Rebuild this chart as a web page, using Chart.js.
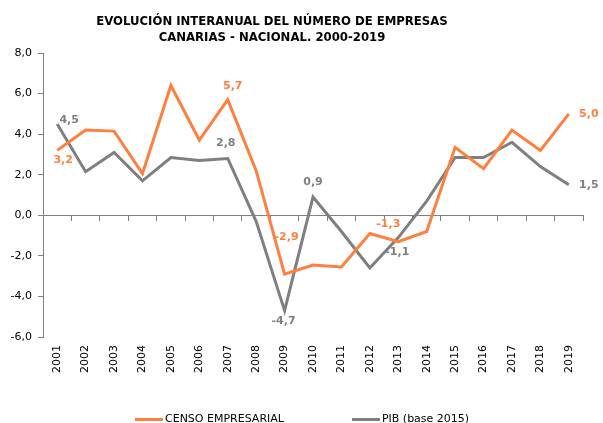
<!DOCTYPE html>
<html>
<head>
<meta charset="utf-8">
<script src="https://cdn.jsdelivr.net/npm/chart.js@4/dist/chart.umd.min.js"></script>
<style>
  html, body { margin: 0; padding: 0; background: #fff; }
  #wrap { position: relative; width: 603px; height: 423px; overflow: hidden; }
  #titulo {
    position: absolute; left: 0; top: 13px; width: 544px; text-align: center;
    font: bold 11.7px "DejaVu Sans", Verdana, sans-serif; line-height: 16px; color: #000;
  }
  #leyenda {
    position: absolute; left: 135px; top: 412px; white-space: nowrap;
    font: 11px "DejaVu Sans", Verdana, sans-serif; color: #000;
  }
  #leyenda span.item { display: inline-block; margin-right: 68px; }
  #leyenda span.linea { display: inline-block; width: 28px; height: 3px; vertical-align: middle; margin-right: 2px; }
</style>
</head>
<body>
<div id="wrap">
  <div id="titulo">EVOLUCIÓN INTERANUAL DEL NÚMERO DE EMPRESAS<br>CANARIAS - NACIONAL. 2000-2019</div>
  <canvas id="grafico" width="603" height="423"></canvas>
  <div id="leyenda"></div>
</div>
<script>
// Datos
const anios = ["2001", "2002", "2003", "2004", "2005", "2006", "2007", "2008", "2009", "2010",
               "2011", "2012", "2013", "2014", "2015", "2016", "2017", "2018", "2019"];
const censo = [3.2, 4.2, 4.15, 2.05, 6.4, 3.7, 5.7, 2.2, -2.9, -2.45,
               -2.55, -0.9, -1.3, -0.8, 3.35, 2.3, 4.2, 3.2, 5.0];
const pib = [4.5, 2.15, 3.1, 1.7, 2.85, 2.7, 2.8, -0.3, -4.7, 0.9,
             -0.8, -2.6, -1.1, 0.7, 2.85, 2.85, 3.6, 2.4, 1.5];
const ticksY = [-6, -4, -2, 0, 2, 4, 6, 8];

// Puntos con etiqueta (índice del año) para cada serie
const etiquetasCenso = [0, 6, 8, 12, 18];
const etiquetasPib = [0, 6, 8, 9, 12, 18];

const naranja = '#ff7f3f';
const gris = '#7f7f7f';

function formato(v) {
    return v.toFixed(1).replace('.', ',');
}

// Desplazamientos de las etiquetas respecto al punto
const desplCenso = { 0: [6, 10], 6: [5, -14], 8: [2, -37], 12: [-10, -18], 18: [20, 0] };
const desplPib = { 0: [12, -4], 6: [-2, -15], 8: [-1, 11], 9: [0, -15], 12: [-1, 15], 18: [20, 0] };

const pluginEtiquetas = {
    id: 'etiquetas',
    afterDatasetsDraw(chart) {
        const ctx = chart.ctx;
        ctx.save();
        ctx.font = 'bold 11px "DejaVu Sans", Verdana, sans-serif';
        ctx.textAlign = 'center';
        ctx.textBaseline = 'middle';
        chart.data.datasets.forEach((ds, i) => {
            const meta = chart.getDatasetMeta(i);
            const lista = i === 0 ? etiquetasCenso : etiquetasPib;
            const despl = i === 0 ? desplCenso : desplPib;
            ctx.fillStyle = ds.borderColor;
            lista.forEach(idx => {
                const p = meta.data[idx];
                const d = despl[idx];
                ctx.fillText(formato(ds.data[idx]), p.x + d[0], p.y + d[1]);
            });
        });
        ctx.restore();
    }
};

const grafico = new Chart(document.getElementById('grafico'), {
    type: 'line',
    data: {
        labels: anios,
        datasets: [{
            label: 'CENSO EMPRESARIAL',
            data: censo,
            borderColor: naranja,
            backgroundColor: naranja,
            borderWidth: 3,
            pointRadius: 0,
            tension: 0,
            xAxisID: 'x'
        }, {
            label: 'PIB (base 2015)',
            data: pib,
            borderColor: gris,
            backgroundColor: gris,
            borderWidth: 3,
            pointRadius: 0,
            tension: 0,
            xAxisID: 'x'
        }]
    },
    options: {
        responsive: false,
        animation: false,
        layout: { padding: { top: 53, right: 20, left: 0, bottom: 0 } },
        plugins: {
            legend: { display: false },
            title: { display: false },
            tooltip: { enabled: false }
        },
        scales: {
            x: {
                type: 'category',
                position: { y: 0 },
                offset: true,
                ticks: { display: false },
                grid: { drawOnChartArea: false, drawTicks: true, tickLength: 5, color: gris, offset: true },
                border: { color: gris, width: 1 }
            },
            x2: {
                type: 'category',
                position: 'bottom',
                offset: true,
                labels: anios,
                grid: { display: false, drawTicks: false },
                border: { display: false },
                ticks: {
                    autoSkip: false,
                    maxRotation: 90,
                    minRotation: 90,
                    padding: 8,
                    color: '#000',
                    font: { family: '"DejaVu Sans", Verdana, sans-serif', size: 11 }
                },
                afterFit: s => { s.height = 86; }
            },
            y: {
                min: -6,
                max: 8,
                afterBuildTicks: s => { s.ticks = ticksY.map(v => ({ value: v })); },
                ticks: {
                    padding: 6,
                    color: '#000',
                    font: { family: '"DejaVu Sans", Verdana, sans-serif', size: 11 },
                    callback: v => formato(v)
                },
                grid: { drawOnChartArea: false, drawTicks: true, tickLength: 5, color: gris },
                border: { color: gris, width: 1 },
                afterFit: s => { s.width = 43; }
            }
        }
    },
    plugins: [pluginEtiquetas]
});

// Leyenda en HTML
const leyenda = document.getElementById('leyenda');
grafico.data.datasets.forEach(ds => {
    const item = document.createElement('span');
    item.className = 'item';
    const linea = document.createElement('span');
    linea.className = 'linea';
    linea.style.background = ds.borderColor;
    item.appendChild(linea);
    item.appendChild(document.createTextNode(ds.label));
    leyenda.appendChild(item);
});
</script>
</body>
</html>
